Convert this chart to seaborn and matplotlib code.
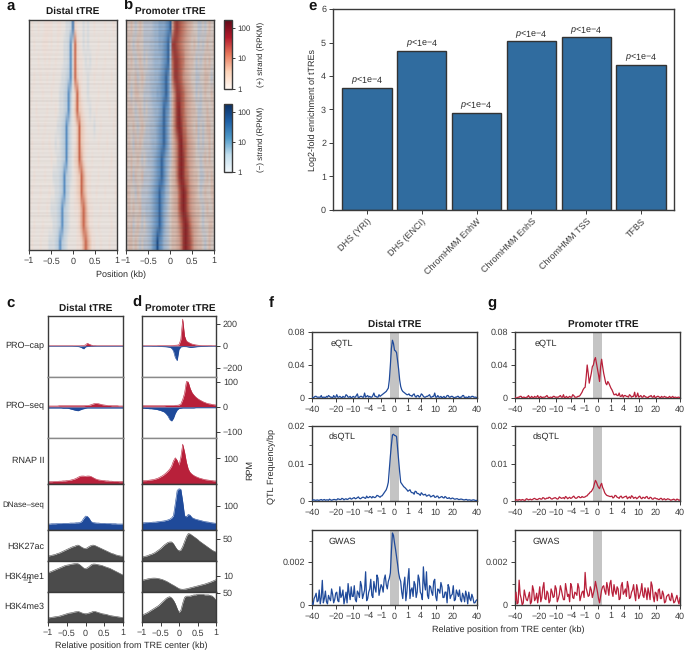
import numpy as np
import matplotlib
matplotlib.use("Agg")
import matplotlib.pyplot as plt
from matplotlib.colors import LinearSegmentedColormap, ListedColormap, LogNorm
from matplotlib.cm import ScalarMappable
from matplotlib.ticker import NullLocator
import seaborn as sns

# ---------------- panel e ----------------
ENRICH_LABELS = ["DHS (YRI)", "DHS (ENCI)", "ChromHMM EnhW", "ChromHMM EnhS", "ChromHMM TSS", "TFBS"]
ENRICH_VALUES = [3.65, 4.75, 2.90, 5.03, 5.15, 4.33]

# ---------------- panels a, b: signed strand level (-9 minus ... +9 plus) ----------------
HEAT_DISTAL = [
 [0,1,0,0,1,0,0,1,1,1,1,0,0,1,1,0,0,-1,-1,-2, -7, 2,1,0,0,-1,0,-1,0,0,1,0,0,0,0,1,0,0,0,1,0],
 [0,0,1,0,0,0,1,1,1,0,1,0,0,1,0,0,-1,-1,-2,-6, 0, 6,2,1,0,-1,0,-1,0,0,0,0,1,0,0,0,0,1,0,0,0],
 [1,0,0,0,1,0,0,1,0,1,0,0,1,0,0,0,-1,-1,-2,-6, 0, 6,2,1,1,0,-1,0,-1,0,0,1,0,0,0,1,0,0,0,0,1],
 [0,0,1,0,0,1,0,0,1,0,0,1,0,0,0,-1,-1,-2,-3,-6, 0, 6,3,1,1,0,0,-1,0,0,1,0,0,0,1,0,0,0,1,0,0],
 [0,1,0,0,0,0,1,0,0,0,1,0,0,0,-1,-1,-2,-3,-6,-3, 0, 2,6,3,1,0,0,-1,0,0,0,0,1,0,0,0,1,0,0,0,0],
 [1,0,0,1,0,0,0,0,1,0,0,0,1,0,-1,-1,-2,-3,-6,-2, 0, 3,6,3,2,1,0,0,-1,0,0,1,0,0,0,0,0,1,0,0,1],
 [0,0,0,0,1,0,0,1,0,0,0,0,0,-1,-1,-2,-3,-6,-3,-1, 0, 1,3,6,3,2,1,0,0,0,-1,0,0,1,0,0,0,0,0,1,0],
 [0,1,0,0,0,0,1,0,0,1,0,0,-1,0,-1,-2,-3,-6,-3,-1, 0, 1,3,6,3,2,1,1,0,0,0,0,1,0,0,0,1,0,0,0,0],
 [1,0,0,0,1,0,0,0,0,0,1,0,0,-1,-1,-2,-3,-6,-2,-1, 0, 2,3,6,4,2,1,0,0,1,0,0,0,0,1,0,0,0,1,0,0],
 [0,0,1,0,0,0,0,1,0,0,0,-1,-1,-1,-2,-3,-6,-3,-2,-1, 0, 1,2,3,6,4,2,1,1,0,0,0,1,0,0,0,0,1,0,0,0],
 [0,1,0,0,0,1,0,0,0,1,0,0,-1,-1,-2,-3,-6,-3,-2,0, 0, 1,2,3,6,4,3,1,1,0,0,1,0,0,0,1,0,0,0,0,1],
 [1,0,0,0,1,0,0,0,1,0,-1,-1,-1,-2,-3,-6,-3,-2,-1,0, 0, 1,1,2,4,6,4,2,1,1,0,0,0,1,0,0,0,1,0,0,0],
 [0,0,1,0,0,0,1,0,0,0,0,-1,-1,-2,-3,-6,-3,-2,-1,0, 0, 0,1,2,4,6,4,3,1,1,0,0,1,0,0,0,0,0,1,0,0],
 [0,1,0,0,0,1,0,0,0,-1,-1,-1,-2,-3,-6,-3,-2,-1,0,0, 0, 0,1,1,2,4,6,4,3,1,1,0,0,1,0,0,0,1,0,0,0],
]
HEAT_PROMOTER = [
 [1,0,1,0,-1,0,1,0,-1,-1,-1,-1,-2,-3,-3,-4,-4,-4,-5,-6, -8, 3,7,8,7,6,5,4,3,2,1,0,0,-1,-1,0,-1,0,1,0,0],
 [0,1,0,-1,0,1,0,0,-1,-1,-1,-2,-2,-3,-3,-4,-4,-5,-6,-8, -3, 8,8,7,6,5,4,3,2,1,0,1,0,-1,0,-1,0,1,0,0,1],
 [1,0,1,0,-1,0,1,0,-1,0,-1,-1,-2,-3,-3,-3,-4,-5,-6,-8, -2, 6,8,8,7,6,5,3,2,1,1,0,-1,0,-1,0,1,0,1,0,0],
 [0,1,0,0,1,-1,0,1,0,-1,-1,-2,-2,-3,-3,-4,-5,-6,-8,-6, -2, 5,8,8,7,6,4,3,2,1,0,0,-1,-1,0,0,1,1,0,-1,0],
 [1,0,-1,0,1,1,0,0,-1,-1,-1,-2,-3,-3,-4,-4,-5,-6,-8,-6, -2, 2,5,8,8,7,6,4,3,2,1,0,-1,0,-1,0,1,0,0,1,0],
 [0,1,1,0,-1,0,1,0,-1,0,-1,-1,-2,-3,-3,-4,-5,-8,-6,-5, -2, 2,5,8,9,7,6,4,3,2,1,1,0,-1,-1,0,0,1,0,0,1],
 [1,0,0,1,0,-1,0,1,0,-1,-1,-2,-2,-3,-4,-5,-6,-8,-6,-4, -1, 2,5,8,9,8,6,5,3,2,1,0,1,-1,0,-1,0,1,1,0,0],
 [0,1,0,-1,1,0,1,0,-1,-1,-1,-2,-3,-3,-4,-5,-6,-8,-6,-4, -1, 1,3,5,8,9,7,6,4,3,2,1,0,-1,0,-1,0,0,1,0,1],
 [1,0,1,0,0,1,0,-1,0,-1,-2,-2,-3,-4,-5,-6,-8,-6,-4,-3, -1, 1,3,5,8,9,8,6,4,3,2,1,0,0,-1,0,1,0,1,0,0],
 [0,0,1,-1,1,0,0,1,-1,-1,-1,-2,-3,-4,-5,-6,-8,-6,-4,-2, 0, 1,2,5,8,9,8,6,5,3,2,1,1,0,-1,-1,0,1,0,1,0],
 [1,1,0,0,-1,1,0,-1,-1,-1,-2,-3,-4,-5,-6,-8,-6,-5,-3,-2, 0, 1,2,3,6,8,9,8,6,4,3,2,1,0,-1,0,1,0,0,1,1],
 [0,1,0,1,0,0,1,-1,-1,-2,-2,-3,-4,-5,-6,-8,-6,-4,-3,-1, 0, 1,2,3,6,8,9,8,6,4,3,2,1,1,0,-1,0,1,0,0,1],
 [1,0,1,-1,0,1,0,-1,0,-1,-2,-3,-4,-5,-6,-8,-6,-4,-2,-1, 0, 1,1,2,4,6,8,9,8,6,4,3,2,1,0,-1,0,0,1,1,0],
 [0,1,1,0,1,0,-1,0,-1,-1,-2,-3,-5,-6,-9,-6,-5,-3,-2,-1, 0, 1,1,2,3,5,8,9,8,7,5,3,2,1,1,0,-1,0,1,0,0],
]
# row-to-row streak darkness, top to bottom (0 none ... 9 strong)
ROW_STREAK = [3,7,1,5,0,8,2,4,6,1,3,9,0,5,2,7,1,4,6,0,8,3,1,5,2,9,0,4,7,1,
              3,6,0,8,2,5,1,7,3,0,6,2,9,1,4,0,7,3,5,1,8,2,6,0,4,9,1,5,3,7,
              2,6,1,4,8,0,3,7,1,5,2,9,0,6,3,1,8,4,0,5,2,7,1,6,3,0,9,4,1,5,
              7,2,0,6,3,8,1,4,5,0,7,2,9,3,1,6,0,4,8,2,5,1,7,0,3,6,2,9,1,4]

# ---------------- panels c, d: tracks on a 41-point grid (groups of five) ----------------
TRACK_X = [-1,-.95,-.9,-.85,-.8, -.75,-.7,-.65,-.6,-.55, -.5,-.45,-.4,-.35,-.3, -.25,-.2,-.15,-.1,-.05, 0,
           .05,.1,.15,.2,.25, .3,.35,.4,.45,.5, .55,.6,.65,.7,.75, .8,.85,.9,.95,1]
CAP_DIST_P = [2,2,2,2,2, 2,2,2,2,2, 2,2,2,2,2, 2,2,2,3,5, 10, 25,16,9,4,3, 2,2,2,2,2, 2,2,2,2,2, 2,2,2,2,2]
CAP_DIST_M = [-2,-2,-2,-2,-2, -2,-2,-2,-2,-2, -2,-2,-2,-2,-3, -4,-5,-8,-16,-26, -8, -4,-3,-2,-2,-2, -2,-2,-2,-2,-2, -2,-2,-2,-2,-2, -2,-2,-2,-2,-2]
CAP_PROM_P = [2,2,2,2,2, 2,2,2,2,3, 3,3,3,3,4, 4,5,6,7,8, 12, 60,245,90,45,35, 25,18,14,10,8, 6,5,4,4,3, 3,3,2,2,2]
CAP_PROM_M = [-2,-2,-2,-2,-2, -2,-3,-3,-3,-4, -4,-5,-6,-7,-9, -12,-20,-45,-105,-133, -30, -8,-5,-5,-6,-9, -13,-12,-10,-8,-6, -5,-4,-4,-3,-3, -2,-2,-2,-2,-2]
SEQ_DIST_P = [4,4,4,4,4, 4,5,5,5,5, 5,5,5,5,5, 5,5,5,5,5, 6, 6,7,9,12,14, 14,13,11,9,8, 7,6,6,5,5, 5,5,4,4,4]
SEQ_DIST_M = [-4,-4,-4,-4,-4, -4,-4,-4,-5,-5, -5,-6,-8,-10,-12, -14,-15,-12,-9,-7, -5, -4,-4,-4,-4,-4, -4,-4,-4,-4,-4, -4,-4,-4,-4,-4, -4,-4,-4,-4,-4]
SEQ_PROM_P = [5,5,5,5,5, 5,5,5,5,5, 5,5,5,6,6, 6,6,6,7,7, 8, 12,30,55,102,100, 75,58,48,40,34, 29,25,21,18,15, 13,12,10,9,8]
SEQ_PROM_M = [-5,-5,-6,-6,-7, -7,-8,-9,-10,-12, -14,-17,-20,-27,-36, -50,-56,-45,-25,-12, -6, -5,-4,-4,-4,-4, -4,-4,-4,-3,-3, -3,-3,-3,-3,-3, -3,-3,-3,-3,-3]
RNAP_DIST = [9,9,9,10,10, 10,11,11,12,12, 13,14,15,17,19, 22,26,30,31,31, 30, 31,31,29,25,21, 18,16,15,14,13, 12,12,11,11,10, 10,10,9,9,9]
RNAP_PROM = [12,13,13,14,15, 16,17,19,21,24, 28,32,37,43,50, 58,70,90,102,92, 74, 105,155,125,85,58, 45,38,33,29,26, 23,21,19,17,16, 15,14,13,12,12]
DNASE_DIST = [25,25,26,26,26, 27,27,27,28,28, 28,28,29,29,29, 30,30,31,36,48, 58, 57,48,35,31,30, 29,29,28,28,28, 27,27,27,26,26, 26,25,25,25,25]
DNASE_PROM = [30,30,31,31,32, 32,33,33,34,35, 36,37,38,40,42, 45,50,60,111,165, 172, 170,120,60,55,65, 62,52,48,45,43, 41,39,37,35,34, 33,31,30,29,28]
K27_DIST = [11,12,13,14,15, 17,18,20,22,24, 26,28,30,32,33, 35,36,34,31,29, 28, 30,33,35,36,35, 33,31,29,27,25, 23,21,19,17,16, 14,13,12,11,11]
K27_PROM = [9,10,11,12,14, 15,17,19,22,25, 28,32,36,39,42, 43,43,39,32,26, 23, 25,33,44,55,62, 61,58,55,52,49, 45,42,39,36,33, 30,27,24,22,20]
ME1_DIST = [12,12.5,13,13.5,14, 14.5,15,15.5,16,16.5, 16.8,17,17.3,17.5,17.7, 17.8,17.7,17,16,15, 14.6, 15.2,16,17,17.5,17.5, 17.3,17,16.8,16.5,16, 15.6,15.2,14.8,14.2,13.6, 13,12.4,11.8,11.2,10.6]
ME1_PROM = [7.3,7.6,7.9,8.2,8.4, 8.6,8.7,8.7,8.6,8.4, 8.1,7.8,7.3,6.8,6.2, 5.5,4.8,4.2,3.5,2.8, 2.1, 1.8,1.7,1.8,2.0,2.3, 2.6,2.9,3.2,3.5,3.8, 4.1,4.4,4.7,5,5.4, 5.8,6.2,6.7,7.2,7.7]
ME3_DIST = [7,7.5,8,8.5,9, 9.5,10,11,12,13, 14,15,15.5,16,17, 17.5,18,17,15.5,14.5, 14, 14.5,15.5,16.5,18,18, 17,16,15,14,13.5, 13,12,11,10.5,10, 9.5,9,8.5,8,7.5]
ME3_PROM = [11.4,13,14.5,16,18, 20,22,24,26,28, 31,34,37,40,42, 43,41,37,31,23, 16, 20,32,42,44,44, 44,45,46,46,47, 47,47,47,46,46, 46,45,44,41,37]

# ---------------- panels f, g: QTL frequency on a shared position list (kb) ----------------
QTL_POS_RIGHT = [0,.025,.1,.225,.4,.625,.9,1.225,1.6,2.025,2.5,3.025,3.6,4.225,4.9,5.625,6.4,7.225,8.1,9.025,10,
                 11.025,12.1,13.225,14.4,15.625,16.9,18.225,19.6,21.025,22.5,24.025,25.6,27.225,28.9,30.625,32.4,34.225,36.1,38.025,40]
QTL_MID_RIGHT = [.00625,.05625,.15625,.30625,.50625,.75625,1.05625,1.40625,1.80625,2.25625,2.75625,3.30625,3.90625,4.55625,5.25625,
                 6.00625,6.80625,7.65625,8.55625,9.50625,10.50625,11.55625,12.65625,13.80625,15.00625,16.25625,17.55625,18.90625,
                 20.30625,21.75625,23.25625,24.80625,26.40625,28.05625,29.75625,31.50625,33.30625,35.15625,37.05625,39.00625]
QTL_POS = [-v for v in QTL_POS_RIGHT[:0:-1]] + QTL_POS_RIGHT
QTL_MID = [-v for v in QTL_MID_RIGHT[::-1]] + QTL_MID_RIGHT
EQTL_DIST = [1,1,2,1,1,0,1,2,3,1,0,1,4,1,1,2,1,3,1,0,2,1,5,1,2,1,1,3,2,1,6,2,1,2,
             4,6,8,12,40,70, 58, 55,35,14,8,6,4,5,
             3,4,2,3,1,5,2,1,2,4,1,2,1,3,1,0,2,1,3,1,2,0,1,2,1,3,0,1,2,1,2,1,0]
EQTL_DIST_MID = [0,2,1,1,3,1,0,1,2,1, 3,1,1,2,0,1,4,1,2,1, 1,3,0,2,1,6,2,1,1,3, 2,1,4,3,
                 5,7,10,22,60,66, 57,45,22,10,7,5,
                 4,3,2,5,1,3,2,4,1,2, 3,1,2,6,1,1,2,1,0,3, 1,2,1,1,2,0,1,3,1,0, 1,2,1,1]
DSQTL_DIST = [2,3,2,2,3,2,4,3,2,3,3,4,3,5,4,6,5,4,7,5,8,6,9,7,8,10,7,9,12,8,10,11,14,10,
              14,22,30,50,120,176, 175, 172,110,50,42,36,30,28,
              24,22,26,20,18,22,16,18,14,16,12,15,10,13,9,12,8,10,7,6,8,5,6,4,5,4,3,4,3,2,3,2,2]
DSQTL_DIST_MID = [3,2,3,2,4,3,2,3,5,2, 4,3,6,4,7,3,6,5,8,6, 9,7,11,6,10,8,13,9,11,12, 9,15,12,13,
                  18,26,38,85,150,178, 174,140,78,46,38,33,
                  26,30,22,18,25,20,15,19,17,13, 16,11,14,10,13,8,11,9,12,7, 9,6,7,5,6,4,5,3,4,2, 3,2,3,1]
GWAS_DIST = [10,30,55,20,5,115,30,15,45,20,50,25,60,15,35,70,30,10,55,85,40,25,65,35,90,50,155,30,75,45,110,60,125,70,
             85,120,95,110,150,336, 290, 225,150,110,30,130,60,170,
             70,40,95,60,120,50,178,70,45,90,60,110,40,75,55,85,35,60,95,30,50,20,70,40,25,55,15,45,60,20,35,10,25]
GWAS_DIST_MID = [0,40,15,70,35,10,65,5,30,75, 10,55,20,85,45,5,60,100,25,40, 90,15,55,110,30,70,20,60,120,35, 80,140,45,95,
                 60,140,75,125,250,325, 260,190,125,60,95,20,
                 120,30,80,110,35,140,60,25,100,155, 30,85,45,120,20,70,105,35,60,10, 80,45,90,25,55,70,15,40,65,5, 30,50,10,20]
EQTL_PROM = [1,0,1,2,1,0,1,1,2,0,1,3,1,0,1,2,1,1,0,2,1,1,3,1,0,2,1,1,4,1,1,2,5,10,
             13,40,18,30,40,49, 35, 20,47,30,18,20,15,10,
             4,5,3,2,4,3,2,1,3,2,7,2,1,3,1,2,1,2,3,1,0,2,1,2,1,1,0,2,1,0,1,1,0]
EQTL_PROM_MID = [0,1,2,0,1,1,3,0,1,2, 1,0,2,1,1,3,0,1,2,1, 1,2,1,4,1,0,2,1,3,1, 2,3,7,12,
                 25,30,24,38,46,42, 28,38,38,24,16,18,
                 12,7,4,3,6,2,1,3,2,4, 1,2,1,6,2,1,3,1,0,2, 1,3,1,2,0,1,2,1,1,0, 2,1,0,1]
DSQTL_PROM = [2,3,4,2,3,2,5,4,3,6,5,4,7,5,8,6,7,9,5,8,7,6,9,8,6,10,8,7,11,9,8,12,9,10,
              11,14,20,25,35,55, 42, 33,47,30,18,14,12,13,
              10,14,9,12,8,11,13,9,7,12,9,6,11,8,10,7,12,6,9,5,8,6,4,7,5,3,6,4,3,5,2,4,3]
DSQTL_PROM_MID = [3,2,3,4,2,6,3,5,4,7, 4,6,5,9,5,8,10,6,7,9, 5,11,7,9,12,6,10,8,13,7, 11,9,12,10,
                  13,18,24,30,46,50, 36,42,36,22,15,13,
                  12,8,15,10,7,13,9,12,6,11, 14,7,10,8,13,6,9,11,7,10, 5,8,6,4,7,3,6,4,5,2, 4,3,5,2]
GWAS_PROM = [20,5,116,30,10,45,20,60,15,70,30,10,85,35,105,25,55,20,60,40,75,30,90,45,25,70,50,100,35,60,45,80,40,65,
             152,60,45,70,55,110, 60, 10,70,90,50,80,100,60,
             95,50,75,30,105,60,40,85,35,70,50,95,30,65,45,80,25,55,108,40,60,20,75,30,50,15,45,25,55,10,30,20,35]
GWAS_PROM_MID = [60,10,50,0,70,25,40,5,90,20, 55,45,15,80,30,65,10,75,35,90, 15,50,70,25,100,40,15,85,30,55, 100,20,60,35,
                 80,40,85,35,75,85, 30,40,85,65,105,45,
                 115,40,65,85,25,90,50,75,110,30, 60,95,20,70,45,100,35,60,80,25, 90,15,55,70,30,65,10,40,50,20, 35,15,45,5]
QTL_TICKS = [-40,-20,-10,-4,-1,0,1,4,10,20,40]

# ---------------- style ----------------
W, H = 685, 651
DARK = "#3a3a3a"
RED = "#b8203a"
BLUE = "#1f4a9a"
GREY = "#4b4b4b"
sns.set_style("ticks")
plt.rcParams.update({
    "font.family": ["Liberation Sans", "DejaVu Sans"], "font.size": 6.5,
    "text.hinting": "no_hinting", "text.hinting_factor": 1,
    "axes.edgecolor": DARK, "axes.linewidth": 1.0, "text.color": "#2a2a2a",
    "xtick.color": DARK, "ytick.color": DARK, "xtick.labelsize": 6.5, "ytick.labelsize": 6.5,
    "xtick.major.size": 3, "ytick.major.size": 3, "xtick.major.width": .7, "ytick.major.width": .7,
    "xtick.major.pad": 2, "ytick.major.pad": 2,
    "mathtext.fontset": "custom", "mathtext.it": "Liberation Sans:italic",
    "mathtext.rm": "Liberation Sans",
})
fig = plt.figure(figsize=(W / 100, H / 100), dpi=100)


def axpx(x0, y0, x1, y1):
    return fig.add_axes([x0 / W, 1 - y1 / H, (x1 - x0) / W, (y1 - y0) / H])


def tpx(x, y, s, **kw):
    kw.setdefault("ha", "center")
    kw.setdefault("va", "center")
    fig.text(x / W, 1 - y / H, s, **kw)


def mlabel(v):
    return f"{v}".replace("-", "\u2212")


# panels a, b
def strand_cmap(center, near_blue, near_red, name):
    return LinearSegmentedColormap.from_list(name, [
        (0, "#1c4f8c"), (3 / 18, "#5f8fc0" if name == "b" else "#5b90c4"),
        (6 / 18, "#9fb8d3" if name == "b" else "#bccfdf"), (8 / 18, near_blue), (.5, center),
        (10 / 18, near_red), (12 / 18, "#d3a596" if name == "b" else "#efcbb9"),
        (15 / 18, "#bd6a58" if name == "b" else "#cc6a50"), (1, "#8a2226")])


def heat(mat, box, cmap, streak_scale):
    ax = axpx(*box)
    arr = np.array(mat)
    m, n = arr.shape
    sns.heatmap(arr, ax=ax, cmap=cmap, vmin=-9, vmax=9, cbar=False,
                xticklabels=False, yticklabels=False)
    ax.collections[0].remove()
    ax.imshow(arr, extent=(0, n, m, 0), aspect="auto", cmap=cmap, vmin=-9, vmax=9,
              interpolation="bilinear")
    streak = np.array(ROW_STREAK, dtype=float)[:, None]
    ax.imshow(np.zeros_like(streak), extent=(0, n, m, 0), aspect="auto",
              cmap=ListedColormap(["#5a4a44"]), alpha=streak * streak_scale, interpolation="nearest")
    ax.set_xlim(0, n)
    ax.set_ylim(m, 0)
    ticks = [-1, -.5, 0, .5, 1]
    ax.set_xticks([(t + 1) / 2 * n for t in ticks])
    ax.set_xticklabels(["\u22121", "\u22120.5", "0", "0.5", "1"], rotation=0)
    ax.tick_params(axis="x", bottom=True, length=3)
    ax.set_yticks([])
    for s in ax.spines.values():
        s.set_visible(True)
        s.set_color(DARK)
        s.set_linewidth(1.0)
    return ax


heat(HEAT_DISTAL, (29, 20, 117, 250), strand_cmap("#e9e4e0", "#d8dde1", "#eee0d9", "a"), .007)
heat(HEAT_PROMOTER, (126, 20, 214, 250), strand_cmap("#d4cac5", "#bcc5d2", "#d8bcb0", "b"), .022)
tpx(121, 275, "Position (kb)", fontsize=6.8)

# colorbars
CB_RED = LinearSegmentedColormap.from_list("r", ["#fff8f3", "#fdd3b8", "#e8795c", "#b2182b", "#5f0a18"])
CB_BLUE = LinearSegmentedColormap.from_list("bl", ["#f2f8fc", "#c3dfee", "#4f9ac9", "#1d5fa5", "#0c2f62"])
for box, cm, lab, ymid in [((224, 20, 232, 89), CB_RED, "(+) strand (RPKM)", 54),
                           ((224, 104, 232, 172), CB_BLUE, "(\u2212) strand (RPKM)", 139)]:
    cax = axpx(*box)
    cb = fig.colorbar(ScalarMappable(LogNorm(1, 178), cm), cax=cax)
    cb.set_ticks([1, 10, 100], labels=["1", "10", "100"])
    cax.yaxis.set_minor_locator(NullLocator())
    cax.tick_params(length=2.5, labelsize=6, pad=1.5)
    cb.outline.set_edgecolor(DARK)
    cb.outline.set_linewidth(1.0)
    tpx(261, ymid, lab, rotation=90, fontsize=6)

# panel e
ax = axpx(333, 9, 674, 210)
sns.barplot(x=ENRICH_LABELS, y=ENRICH_VALUES, ax=ax, color="#306c9f", saturation=1, width=.9,
            edgecolor="#333333", linewidth=1.0)
ax.set_xlim(-.62, 5.6)
ax.set_ylim(0, 6)
ax.set_yticks(range(7))
ax.set_xticks(range(6))
ax.set_xticklabels(ENRICH_LABELS, rotation=45, ha="right", rotation_mode="anchor", fontsize=6.5)
ax.set_ylabel("")
for i, v in enumerate(ENRICH_VALUES):
    ax.annotate("$\\mathit{p}$<1e\u22124", (i, v), xytext=(0, 0.5), textcoords="offset points",
                ha="center", va="bottom", fontsize=6.3)
tpx(313, 110, "Log2-fold enrichment of tTREs", rotation=90, fontsize=6.3)

# panels c, d
ROW_EDGES = [316, 377, 438, 484, 530, 561, 592, 622]
ROW_LIMS = [(-282, 273), (-124, 120), (0, 179), (0, 192), (0, 70), (0, 19.4), (0, 51)]
ROW_TICKS = [[-200, 0, 200], [-100, 0, 100], [100], [100], [50], [10], [50]]
ROW_NAMES = ["PRO\u2013cap", "PRO\u2013seq", "RNAP II", "DNase\u2013seq", "H3K27ac", "H3K4me1", "H3K4me3"]
ROW_NAME_Y = [346, 406, 461, 505, 547, 577, 607]
ROW_NAME_SIZE = [6.4, 6.4, 6.4, 6.0, 6.4, 6.4, 6.4]
ROW_SERIES_C = [[(CAP_DIST_P, RED), (CAP_DIST_M, BLUE)], [(SEQ_DIST_P, RED), (SEQ_DIST_M, BLUE)],
                [(RNAP_DIST, RED)], [(DNASE_DIST, BLUE)], [(K27_DIST, GREY)], [(ME1_DIST, GREY)], [(ME3_DIST, GREY)]]
ROW_SERIES_D = [[(CAP_PROM_P, RED), (CAP_PROM_M, BLUE)], [(SEQ_PROM_P, RED), (SEQ_PROM_M, BLUE)],
                [(RNAP_PROM, RED)], [(DNASE_PROM, BLUE)], [(K27_PROM, GREY)], [(ME1_PROM, GREY)], [(ME3_PROM, GREY)]]
for (x0, x1, rows, right) in [(48, 123, ROW_SERIES_C, False), (142, 216, ROW_SERIES_D, True)]:
    for r, series in enumerate(rows):
        ax = axpx(x0, ROW_EDGES[r], x1, ROW_EDGES[r + 1])
        for vals, col in series:
            sns.lineplot(x=TRACK_X, y=vals, ax=ax, color=col, linewidth=.4, errorbar=None)
            ax.fill_between(TRACK_X, 0, vals, color=col, linewidth=0)
        ax.set_xlim(-1, 1)
        ax.set_ylim(*ROW_LIMS[r])
        ax.set_ylabel("")
        if right:
            ax.yaxis.tick_right()
            ax.set_yticks(ROW_TICKS[r])
            ax.set_yticklabels([mlabel(t) for t in ROW_TICKS[r]])
            ax.tick_params(axis="y", length=3, labelsize=6.5)
        else:
            ax.set_yticks([])
        if r == 6:
            ax.set_xticks([-1, -.5, 0, .5, 1])
            ax.set_xticklabels(["\u22121", "\u22120.5", "0", "0.5", "1"])
        else:
            ax.set_xticks([])
        for key in ("top", "bottom"):
            if r < 2 and key == "bottom" or r in (1, 2) and key == "top":
                ax.spines[key].set_color("#8a8a8a")
for name, y, fs in zip(ROW_NAMES, ROW_NAME_Y, ROW_NAME_SIZE):
    tpx(44.5, y, name, ha="right", fontsize=fs)
tpx(28, 581, "\u22121", ha="center", fontsize=6.5)
tpx(250, 470, "RPM", rotation=90, fontsize=6.5)
tpx(131, 646, "Relative position from TRE center (kb)", fontsize=6.3)


# panels f, g
def ssqrt(x):
    x = np.asarray(x, dtype=float)
    return np.sign(x) * np.sqrt(np.abs(x))


def isqrt(x):
    x = np.asarray(x, dtype=float)
    return np.sign(x) * x ** 2


QTL_ROWS = [
    ((332, 398), (0, .08), [0, .04, .08], ["0", "0.04", "0.08"], [.02, .06], "eQTL", 343, .001),
    ((426, 501), (0, .02), [0, .01, .02], ["0", "0.01", "0.02"], [.005, .015], "dsQTL", 437, .0001),
    ((530, 605), (0, .0035), [0, .002], ["0", "0.002"], [.001, .003], "GWAS", 542, .00001),
]
for (x0, x1, data, col, lx) in [
        (312, 477, [EQTL_DIST + EQTL_DIST_MID, DSQTL_DIST + DSQTL_DIST_MID, GWAS_DIST + GWAS_DIST_MID], BLUE, 342),
        (515, 680, [EQTL_PROM + EQTL_PROM_MID, DSQTL_PROM + DSQTL_PROM_MID, GWAS_PROM + GWAS_PROM_MID], RED, 546)]:
    for (yy, ylim, yt, ytl, ym, lab, ly, unit), vals in zip(QTL_ROWS, data):
        ax = axpx(x0, yy[0], x1, yy[1])
        ax.set_xscale("function", functions=(ssqrt, isqrt))
        ax.axvspan(-.1, .1, color="#c4c4c4", linewidth=0, zorder=1)
        sns.lineplot(x=QTL_POS + QTL_MID, y=[v * unit for v in vals], ax=ax, color=col, linewidth=.9,
                     errorbar=None, zorder=3)
        ax.set_xlim(-40, 40)
        ax.set_ylim(*ylim)
        ax.set_xticks(QTL_TICKS)
        ax.set_xticklabels([mlabel(t) for t in QTL_TICKS])
        ax.xaxis.set_minor_locator(NullLocator())
        ax.set_yticks(yt)
        ax.set_yticklabels(ytl)
        ax.set_yticks(ym, minor=True)
        ax.tick_params(axis="y", which="minor", length=2, width=.6, color=DARK)
        ax.set_ylabel("")
        tpx(lx, ly, lab, fontsize=6.8)
tpx(272, 466, "QTL Frequency/bp", rotation=90, fontsize=6.8)
tpx(508, 630, "Relative position from TRE center (kb)", fontsize=6.3)

# titles and panel letters
for x, y, s in [(73, 11, "Distal tTRE"), (170, 11, "Promoter tTRE"), (86, 308, "Distal tTRE"),
                (180, 308, "Promoter tTRE"), (395, 324, "Distal tTRE"), (603, 324, "Promoter tTRE")]:
    tpx(x, y, s, fontsize=7.4, fontweight="bold", color="#1a1a1a")
for x, y, s in [(11, 6, "a"), (128, 6, "b"), (11, 303, "c"), (137, 303, "d"), (313, 6, "e"),
                (271, 303, "f"), (492, 303, "g")]:
    tpx(x, y, s, fontsize=11, fontweight="bold", color="#111111")

fig.savefig("out.png", dpi=100)
